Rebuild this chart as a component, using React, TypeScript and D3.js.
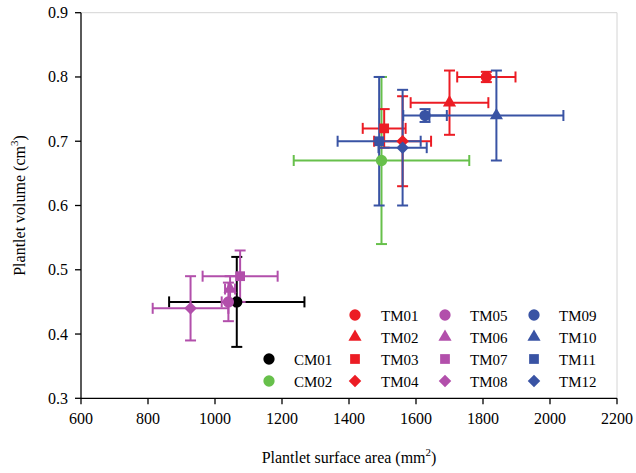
import React from 'react';
import * as d3 from 'd3';

// ---- data ----
const seriesNames = ["CM01", "CM02", "TM01", "TM02", "TM03", "TM04", "TM05", "TM06", "TM07", "TM08", "TM09", "TM10", "TM11", "TM12"];
const surfaceArea = [1065, 1497, 1810, 1700, 1505, 1560, 1040, 1045, 1075, 927, 1627, 1840, 1490, 1560];
const surfaceAreaSD = [202, 262, 87, 116, 64, 85, 20, 15, 112, 113, 65, 200, 124, 72];
const volume = [0.45, 0.67, 0.80, 0.76, 0.72, 0.70, 0.45, 0.47, 0.49, 0.44, 0.74, 0.74, 0.70, 0.69];
const volumeSD = [0.07, 0.13, 0.008, 0.05, 0.03, 0.07, 0.03, 0.02, 0.04, 0.05, 0.01, 0.07, 0.10, 0.09];
const xTicks = [600, 800, 1000, 1200, 1400, 1600, 1800, 2000, 2200];
const yTicks = [0.3, 0.4, 0.5, 0.6, 0.7, 0.8, 0.9];
const xTitle = "Plantlet surface area (mm";
const yTitle = "Plantlet volume (cm";

// ---- styles ----
const FONT = "'Liberation Serif', 'Times New Roman', serif";
const RED = "#ec1c24";
const GREEN = "#67c04b";
const BLUE = "#3953a4";
const MAGENTA = "#b24fab";

function styleFor(name: string) {
  if (name === "CM01") return { color: "#000", shape: d3.symbolCircle };
  if (name === "CM02") return { color: GREEN, shape: d3.symbolCircle };
  const n = parseInt(name.slice(2), 10);
  const color = n <= 4 ? RED : n <= 8 ? MAGENTA : BLUE;
  const shapes = [d3.symbolCircle, d3.symbolTriangle, d3.symbolSquare, d3.symbolDiamond2];
  return { color, shape: shapes[(n - 1) % 4] };
}
function sizeFor(shape: any) {
  if (shape === d3.symbolCircle) return 100;
  if (shape === d3.symbolTriangle) return 75;
  if (shape === d3.symbolSquare) return 95;
  return 100;
}

export default function App() {
  const W = 636, H = 473;
  const x = d3.scaleLinear().domain([600, 2200]).range([81, 617]);
  const y = d3.scaleLinear().domain([0.3, 0.9]).range([398.3, 12.7]);
  const cap = 5.5;

  const order = seriesNames.map((_, i) => i);

  // legend layout
  const legendMarkerX = [269, 355, 445, 534];
  const legendTextX = [294, 381, 470, 559];
  const legendRowY = [315, 337, 359, 381];
  const legendPos = (name: string) => {
    if (name === "CM01") return { col: 0, row: 2 };
    if (name === "CM02") return { col: 0, row: 3 };
    const n = parseInt(name.slice(2), 10) - 1;
    return { col: 1 + Math.floor(n / 4), row: n % 4 };
  };

  return (
    <svg width={W} height={H} style={{ position: 'absolute', left: 0, top: 0, background: '#fff' }} fontFamily={FONT}>
      {/* faint frame */}
      <line x1={x(600)} x2={x(2200)} y1={y(0.9)} y2={y(0.9)} stroke="#d4d4d4" strokeWidth={1} />
      <line x1={x(2200)} x2={x(2200)} y1={y(0.9)} y2={y(0.3)} stroke="#d4d4d4" strokeWidth={1} />
      {/* axes */}
      <line x1={x(600)} x2={x(2200)} y1={y(0.3)} y2={y(0.3)} stroke="#000" strokeWidth={1.3} />
      <line x1={x(600)} x2={x(600)} y1={y(0.3)} y2={y(0.9)} stroke="#000" strokeWidth={1.3} />
      {xTicks.map(t => (
        <g key={'xt' + t}>
          <line x1={x(t)} x2={x(t)} y1={y(0.3)} y2={y(0.3) + 6} stroke="#000" strokeWidth={1.3} />
          <text x={x(t)} y={y(0.3) + 26} textAnchor="middle" fontSize={16}>{t}</text>
        </g>
      ))}
      {yTicks.map(t => (
        <g key={'yt' + t}>
          <line x1={x(600) - 6} x2={x(600)} y1={y(t)} y2={y(t)} stroke="#000" strokeWidth={1.3} />
          <text x={x(600) - 13} y={y(t) + 5.5} textAnchor="end" fontSize={16}>{t.toFixed(1)}</text>
        </g>
      ))}
      <text x={(x(600) + x(2200)) / 2} y={463} textAnchor="middle" fontSize={16}>
        {xTitle}<tspan dy={-7} fontSize={11}>2</tspan><tspan dy={7}>)</tspan>
      </text>
      <text transform={`translate(25, ${(y(0.3) + y(0.9)) / 2}) rotate(-90)`} textAnchor="middle" fontSize={16}>
        {yTitle}<tspan dy={-7} fontSize={11}>3</tspan><tspan dy={7}>)</tspan>
      </text>

      {/* error bars */}
      {order.map(i => {
        const { color } = styleFor(seriesNames[i]);
        const cx = x(surfaceArea[i]), cy = y(volume[i]);
        const x0 = x(surfaceArea[i] - surfaceAreaSD[i]), x1 = x(surfaceArea[i] + surfaceAreaSD[i]);
        const y0 = y(volume[i] - volumeSD[i]), y1 = y(volume[i] + volumeSD[i]);
        return (
          <g key={'e' + i} stroke={color} strokeWidth={2} fill="none">
            <line x1={x0} x2={x1} y1={cy} y2={cy} />
            <line x1={x0} x2={x0} y1={cy - cap} y2={cy + cap} />
            <line x1={x1} x2={x1} y1={cy - cap} y2={cy + cap} />
            <line x1={cx} x2={cx} y1={y0} y2={y1} />
            <line x1={cx - cap} x2={cx + cap} y1={y0} y2={y0} />
            <line x1={cx - cap} x2={cx + cap} y1={y1} y2={y1} />
          </g>
        );
      })}
      {/* markers */}
      {order.map(i => {
        const { color, shape } = styleFor(seriesNames[i]);
        const path = d3.symbol().type(shape).size(sizeFor(shape))();
        return (
          <path key={'m' + i} d={path || ''} fill={color}
            transform={`translate(${x(surfaceArea[i])},${y(volume[i])})`} />
        );
      })}

      {/* legend */}
      {seriesNames.map(name => {
        const { color, shape } = styleFor(name);
        const { col, row } = legendPos(name);
        const path = d3.symbol().type(shape).size(sizeFor(shape))();
        return (
          <g key={'l' + name}>
            <path d={path || ''} fill={color} transform={`translate(${legendMarkerX[col]},${legendRowY[row]})`} />
            <text x={legendTextX[col]} y={legendRowY[row] + 5.5} fontSize={15}>{name}</text>
          </g>
        );
      })}
    </svg>
  );
}
